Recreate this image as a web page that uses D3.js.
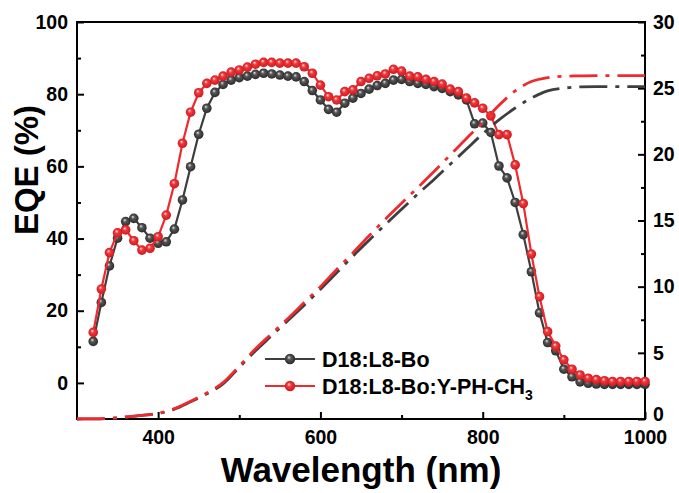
<!DOCTYPE html>
<html>
<head>
<meta charset="utf-8">
<script src="https://cdn.jsdelivr.net/npm/d3@7"></script>
<style>
  body { margin: 0; background: #fff; }
  svg { display: block; font-family: "Liberation Sans", Arial, sans-serif; font-weight: bold; }
</style>
</head>
<body>
<svg id="chart" width="679" height="493"></svg>
<script>
// EQE spectra (10 nm steps)
const wavelengths = [320, 330, 340, 350, 360, 370, 380, 390, 400, 410, 420, 430, 440, 450, 460, 470, 480, 490,
  500, 510, 520, 530, 540, 550, 560, 570, 580, 590, 600, 610, 620, 630, 640, 650, 660, 670, 680, 690,
  700, 710, 720, 730, 740, 750, 760, 770, 780, 790, 800, 810, 820, 830, 840, 850, 860, 870, 880, 890,
  900, 910, 920, 930, 940, 950, 960, 970, 980, 990, 1000];

const eqeBo = [11.5, 22.3, 32.4, 40.1, 44.7, 45.6, 43.0, 40.1, 38.7, 39.1, 42.6, 50.7, 59.9, 68.9, 76.1, 80.5, 82.7, 83.9,
  84.6, 85.0, 85.5, 85.8, 85.6, 85.3, 85.0, 84.8, 83.5, 81.0, 78.4, 75.8, 75.0, 77.5, 78.9, 80.2, 81.4, 82.4, 83.0, 83.9,
  84.1, 83.5, 83.0, 82.7, 82.1, 81.6, 80.7, 79.8, 78.4, 71.8, 72.0, 69.4, 60.1, 56.8, 50.0, 41.1, 30.8, 19.4, 11.2, 8.9,
  3.8, 1.7, 0.3, -0.1, -0.3, -0.4, -0.4, -0.4, -0.4, -0.4, -0.4];

const eqeBoY = [14.0, 26.0, 36.1, 41.6, 42.4, 39.4, 36.8, 37.3, 40.5, 46.5, 55.2, 66.4, 75.0, 80.4, 83.0, 83.9, 85.0, 86.1,
  86.7, 87.5, 88.3, 88.8, 88.8, 88.6, 88.6, 88.6, 87.6, 85.8, 82.5, 79.3, 78.4, 80.7, 81.2, 83.5, 84.4, 85.1, 85.6, 86.9,
  86.4, 85.0, 84.8, 84.1, 83.5, 82.8, 81.4, 80.7, 78.9, 77.6, 76.1, 74.0, 68.8, 68.8, 60.4, 49.7, 35.7, 23.9, 14.2, 10.2,
  6.4, 3.8, 2.2, 1.3, 0.9, 0.6, 0.4, 0.4, 0.4, 0.4, 0.4];

// Integrated current (mA cm^-2), right axis
const jscWl = [300, 320, 340, 360, 380, 400, 420, 440, 460, 480, 500, 520, 540, 560, 580, 600, 620, 640,
  660, 680, 700, 720, 740, 760, 780, 800, 820, 840, 860, 880, 900, 920, 940, 960, 980, 1000];

const jscBo = [0, 0.01, 0.05, 0.15, 0.28, 0.42, 0.75, 1.3, 1.9, 2.65, 3.9, 5.15, 6.3, 7.45, 8.6, 9.8, 11.05, 12.3,
  13.5, 14.7, 15.85, 17.0, 18.1, 19.25, 20.4, 21.55, 22.6, 23.5, 24.25, 24.8, 25.0, 25.1, 25.12, 25.12, 25.12, 25.12];

const jscBoY = [0, 0.01, 0.05, 0.15, 0.28, 0.42, 0.78, 1.35, 1.97, 2.75, 4.0, 5.3, 6.45, 7.6, 8.8, 10.0, 11.3, 12.55,
  13.85, 15.1, 16.3, 17.5, 18.7, 19.95, 21.2, 22.4, 23.7, 24.8, 25.5, 25.8, 25.9, 25.93, 25.95, 25.95, 25.95, 25.95];

const seriesNames = ["D18:L8-Bo", "D18:L8-Bo:Y-PH-CH"];
const xTicks = [400, 600, 800, 1000];
const xMinor = [500, 700, 900];
const yLeftTicks = [0, 20, 40, 60, 80, 100];
const yLeftMinor = [10, 30, 50, 70, 90];
const yRightTicks = [0, 5, 10, 15, 20, 25, 30];
const yRightMinor = [2.5, 7.5, 12.5, 17.5, 22.5, 27.5];

// Plot frame
const plot = {left: 77, right: 645, top: 22, bottom: 419};

const svg = d3.select("#chart");

const x = d3.scaleLinear().domain([300, 1000]).range([plot.left, plot.right]);
const yLeft = d3.scaleLinear().domain([-10, 100]).range([plot.bottom, plot.top]);
const yRight = d3.scaleLinear().domain([0, 30]).range([plot.bottom, plot.top]);

// Sphere-like marker gradients
const defs = svg.append("defs");
function ballGradient(id, light, mid, dark) {
  const g = defs.append("radialGradient")
    .attr("id", id)
    .attr("cx", "50%").attr("cy", "50%").attr("r", "55%")
    .attr("fx", "38%").attr("fy", "32%");
  g.append("stop").attr("offset", "0%").attr("stop-color", light);
  g.append("stop").attr("offset", "35%").attr("stop-color", mid);
  g.append("stop").attr("offset", "100%").attr("stop-color", dark);
}
ballGradient("ballBlack", "#e4e4e4", "#555555", "#262626");
ballGradient("ballRed", "#ffe0e0", "#f2383c", "#c8161b");

const styles = [
  {line: "#3e3e3e", ball: "url(#ballBlack)"},
  {line: "#ee2a2f", ball: "url(#ballRed)"}
];

// Axes
function styleAxis(g) {
  g.select(".domain").remove();
  g.selectAll(".tick line").attr("stroke", "#000").attr("stroke-width", 2);
  g.selectAll("text").attr("fill", "#000").style("font-size", "19.5px").style("font-weight", "bold");
}

svg.append("g")
  .attr("transform", `translate(0,${plot.bottom})`)
  .call(d3.axisBottom(x).tickValues(xTicks).tickSize(-7).tickPadding(11).tickFormat(d3.format("d")))
  .call(styleAxis);
svg.append("g")
  .attr("transform", `translate(0,${plot.bottom})`)
  .call(d3.axisBottom(x).tickValues(xMinor).tickSize(-4).tickFormat(""))
  .call(styleAxis);

svg.append("g")
  .attr("transform", `translate(${plot.left},0)`)
  .call(d3.axisLeft(yLeft).tickValues(yLeftTicks).tickSize(-7).tickPadding(9))
  .call(styleAxis);
svg.append("g")
  .attr("transform", `translate(${plot.left},0)`)
  .call(d3.axisLeft(yLeft).tickValues(yLeftMinor).tickSize(-4).tickFormat(""))
  .call(styleAxis);

const rightAxis = svg.append("g")
  .attr("transform", `translate(${plot.right},0)`)
  .call(d3.axisRight(yRight).tickValues(yRightTicks).tickSize(-7).tickPadding(8))
  .call(styleAxis);
// the bottom "0" sits a little higher so it clears the "1000" label
rightAxis.selectAll(".tick text").filter(d => d === 0).attr("dy", "0.1em");
svg.append("g")
  .attr("transform", `translate(${plot.right},0)`)
  .call(d3.axisRight(yRight).tickValues(yRightMinor).tickSize(-4).tickFormat(""))
  .call(styleAxis);

// Frame
svg.append("rect")
  .attr("x", plot.left).attr("y", plot.top)
  .attr("width", plot.right - plot.left).attr("height", plot.bottom - plot.top)
  .attr("fill", "none").attr("stroke", "#000").attr("stroke-width", 2);

// EQE curves with markers
const eqeLine = d3.line()
  .x((d, i) => x(wavelengths[i]))
  .y(d => yLeft(d));

[eqeBo, eqeBoY].forEach((values, k) => {
  const g = svg.append("g").attr("class", "eqe");
  g.append("path")
    .datum(values)
    .attr("fill", "none")
    .attr("stroke", styles[k].line)
    .attr("stroke-width", 2.2)
    .attr("d", eqeLine);
  g.selectAll("circle")
    .data(values)
    .enter()
    .append("circle")
    .attr("cx", (d, i) => x(wavelengths[i]))
    .attr("cy", d => yLeft(d))
    .attr("r", 4.8)
    .attr("fill", styles[k].ball);
});

// Integrated current, dash-dot
const jscLine = d3.line()
  .x((d, i) => x(jscWl[i]))
  .y(d => yRight(d))
  .curve(d3.curveMonotoneX);

[jscBo, jscBoY].forEach((values, k) => {
  svg.append("path")
    .datum(values)
    .attr("fill", "none")
    .attr("stroke", styles[k].line)
    .attr("stroke-width", 2.8)
    .attr("stroke-dasharray", "28,8,4,8")
    .attr("d", jscLine);
});

// Legend
const legendY = [359, 386];
seriesNames.forEach((name, k) => {
  const g = svg.append("g").attr("transform", `translate(265,${legendY[k]})`);
  g.append("line")
    .attr("x1", 0).attr("x2", 50)
    .attr("stroke", styles[k].line).attr("stroke-width", 2.2);
  g.append("circle")
    .attr("cx", 25).attr("r", 5.2)
    .attr("fill", styles[k].ball);
  const t = g.append("text")
    .attr("x", 57).attr("dy", "0.36em")
    .style("font-size", "21.5px")
    .text(name);
  if (k === 1) {
    t.append("tspan").attr("dy", 6).style("font-size", "14px").text("3");
  }
});

// Axis titles
svg.append("text")
  .attr("x", (plot.left + plot.right) / 2)
  .attr("y", 482)
  .attr("text-anchor", "middle")
  .style("font-size", "35px")
  .text("Wavelength (nm)");

svg.append("text")
  .attr("transform", "translate(38,170) rotate(-90)")
  .attr("text-anchor", "middle")
  .style("font-size", "33px")
  .text("EQE (%)");
</script>
</body>
</html>
